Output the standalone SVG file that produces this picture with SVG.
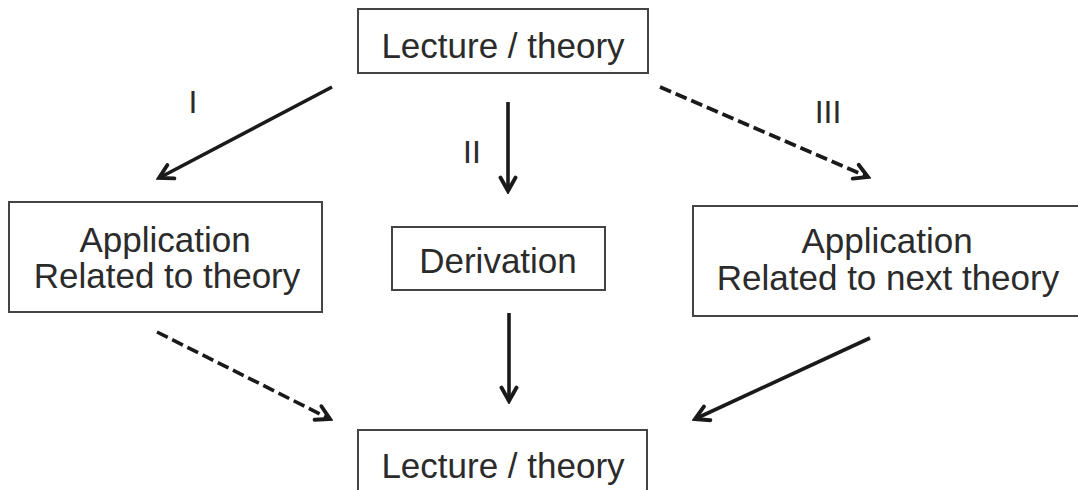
<svg xmlns="http://www.w3.org/2000/svg" width="1078" height="490" viewBox="0 0 1078 490">
<style>
.box{fill:#fff;stroke:#444;stroke-width:2}
.t{font-family:"Liberation Sans",Arial,sans-serif;font-size:35px;fill:#2b2b2b;text-anchor:middle}
.lbl{font-family:"Liberation Sans",Arial,sans-serif;font-size:32px;fill:#2b2b2b;text-anchor:middle}
.c{stroke:#1a1a1a;stroke-width:3.6;fill:none}
.d{stroke-dasharray:12 5}
</style>
<defs>
<marker id="ah" viewBox="0 0 12 12" refX="10" refY="6" markerWidth="5.6" markerHeight="5.6" markerUnits="strokeWidth" orient="auto">
<path d="M2,1.5 L10,6 L2,10.5" fill="none" stroke="#1a1a1a" stroke-width="2.3" stroke-linecap="round" stroke-linejoin="miter"/>
</marker>
</defs>
<g id="connectors">
<line class="c" x1="332" y1="87" x2="159" y2="178" marker-end="url(#ah)"/>
<line class="c" x1="508" y1="102" x2="508" y2="191" marker-end="url(#ah)"/>
<line class="c d" x1="660" y1="87" x2="868" y2="177" marker-end="url(#ah)"/>
<line class="c d" x1="157" y1="332" x2="330" y2="419" marker-end="url(#ah)"/>
<line class="c" x1="509" y1="313" x2="509" y2="401" marker-end="url(#ah)"/>
<line class="c" x1="870" y1="338" x2="695" y2="419" marker-end="url(#ah)"/>
<text class="lbl" x="193" y="113">I</text>
<text class="lbl" x="472" y="163">II</text>
<text class="lbl" x="828" y="123">III</text>
</g>
<g id="top">
<rect class="box" x="358" y="9" width="290" height="64"/>
<text class="t" x="503" y="58">Lecture / theory</text>
</g>
<g id="left">
<rect class="box" x="9" y="202" width="313" height="110"/>
<text class="t" x="165" y="252">Application</text>
<text class="t" x="167" y="288">Related to theory</text>
</g>
<g id="derivation">
<rect class="box" x="392" y="227" width="213" height="63"/>
<text class="t" x="498" y="273">Derivation</text>
</g>
<g id="right">
<rect class="box" x="693" y="206" width="392" height="110"/>
<text class="t" x="887" y="253">Application</text>
<text class="t" x="888" y="290">Related to next theory</text>
</g>
<g id="bottom">
<rect class="box" x="358" y="430" width="289" height="70"/>
<text class="t" x="503" y="478">Lecture / theory</text>
</g>
</svg>
